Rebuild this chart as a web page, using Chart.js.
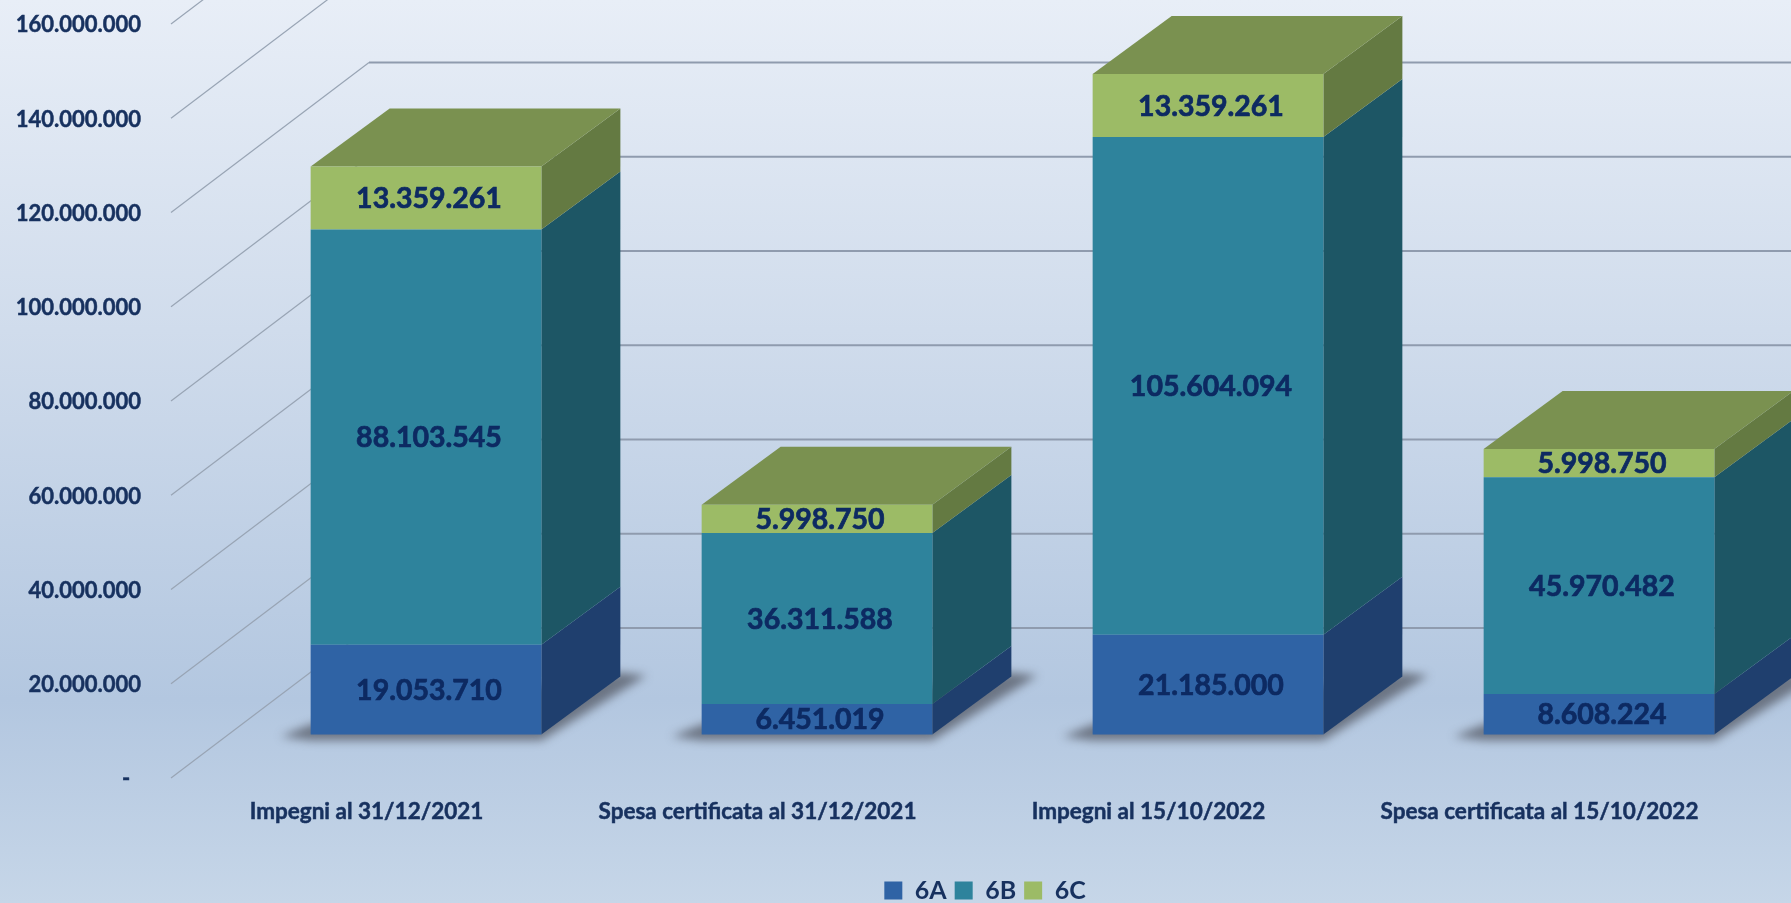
<!DOCTYPE html>
<html>
<head>
<meta charset="utf-8">
<title>Impegni e spesa certificata</title>
<style>
  html, body { margin: 0; padding: 0; width: 1791px; height: 903px; overflow: hidden; }
  body { background: linear-gradient(180deg, #e8eef7 0px, #d0dcec 330px, #b3c7e0 700px, #c6d6e8 903px); }
  #wrap { position: relative; width: 1791px; height: 903px; }
</style>
<script src="https://cdn.jsdelivr.net/npm/chart.js@4/dist/chart.umd.min.js"></script>
</head>
<body>
<div id="wrap"><canvas id="grafico"></canvas></div>
<script>
// valori
const categorie = ['Impegni al 31/12/2021', 'Spesa certificata al 31/12/2021', 'Impegni al 15/10/2022', 'Spesa certificata al 15/10/2022'];
const valori6A = [19053710, 6451019, 21185000, 8608224];
const valori6B = [88103545, 36311588, 105604094, 45970482];
const valori6C = [13359261, 5998750, 13359261, 5998750];
const etichetteSerie = ['6A', '6B', '6C'];
const tacche = [0, 20000000, 40000000, 60000000, 80000000, 100000000, 120000000, 140000000, 160000000];

const coloriFronte = ['#2f63a5', '#2e839c', '#9cbb66'];
const coloriLato = ['#1f3f6e', '#1d5665', '#647a42'];
const coloreTetto = '#7a9150';
const blu = '#17315f';

// prospettiva: profondita' della parete e dei blocchi
const muroDx = 198, muroDy = -150;
const bloccoDx = 79, bloccoDy = -58;

const numero = v => Math.round(v).toString().replace(/\B(?=(\d{3})+$)/g, '.');

function poligono(ctx, punti, colore) {
  ctx.beginPath();
  punti.forEach((p, i) => i ? ctx.lineTo(p[0], p[1]) : ctx.moveTo(p[0], p[1]));
  ctx.closePath();
  ctx.fillStyle = colore;
  ctx.fill();
}

const prospettiva = {
  id: 'prospettiva',
  afterLayout(chart) {
    // legenda spostata come nell'originale
    chart.legend.left = 235;
    chart.legend.top = 870;
  },
  beforeDatasetsDraw(chart) {
    const ctx = chart.ctx, y = chart.scales.y, left = chart.chartArea.left;
    ctx.save();
    // griglia: diagonale sulla parete sinistra, orizzontale sul fondo
    y.ticks.forEach(t => {
      const py = y.getPixelForValue(t.value);
      ctx.strokeStyle = '#98a4b4';
      ctx.lineWidth = 1.2;
      ctx.beginPath();
      ctx.moveTo(left, py);
      ctx.lineTo(left + muroDx, py + muroDy);
      ctx.stroke();
      ctx.strokeStyle = '#8f9bae';
      ctx.lineWidth = 2;
      ctx.beginPath();
      ctx.moveTo(left + muroDx, py + muroDy);
      ctx.lineTo(1791, py + muroDy);
      ctx.stroke();
    });

    const metas = chart.getSortedVisibleDatasetMetas();
    // ombre alla base
    metas[0].data.forEach(b => {
      const L = b.x - b.width / 2, R = b.x + b.width / 2, B = b.base;
      ctx.save();
      ctx.filter = 'blur(5px)';
      poligono(ctx, [[L - 30, B + 2], [L, B - 10], [R + bloccoDx, B + bloccoDy - 4], [R + bloccoDx + 26, B + bloccoDy - 1], [R, B + 6], [L, B + 6]], 'rgba(60,62,70,0.6)');
      ctx.restore();
    });
    // facce laterali e tetto
    metas.forEach(meta => {
      meta.data.forEach(b => {
        const R = b.x + b.width / 2;
        poligono(ctx, [[R, b.base], [R + bloccoDx, b.base + bloccoDy], [R + bloccoDx, b.y + bloccoDy], [R, b.y]], coloriLato[meta.index]);
      });
    });
    metas[metas.length - 1].data.forEach(b => {
      const L = b.x - b.width / 2, R = b.x + b.width / 2;
      poligono(ctx, [[L, b.y], [R, b.y], [R + bloccoDx, b.y + bloccoDy], [L + bloccoDx, b.y + bloccoDy]], coloreTetto);
    });
    ctx.restore();
  },
  afterDatasetsDraw(chart) {
    const ctx = chart.ctx;
    ctx.save();
    ctx.font = 'bold 28.5px Lato';
    ctx.fillStyle = '#0d2a62';
    ctx.strokeStyle = '#0d2a62';
    ctx.lineWidth = 0.7;
    ctx.textAlign = 'center';
    ctx.textBaseline = 'middle';
    chart.getSortedVisibleDatasetMetas().forEach(meta => {
      meta.data.forEach((b, i) => {
        const v = chart.data.datasets[meta.index].data[i].y;
        const tx = b.x + 3, ty = (b.y + b.base) / 2 + 1;
        ctx.fillText(numero(v), tx, ty);
        ctx.strokeText(numero(v), tx, ty);
      });
    });
    ctx.restore();
  }
};

const serie = [valori6A, valori6B, valori6C];
const pxPer20M = 94.25;
const baseAsse = 778, baseBlocchi = 734.5;
const maxAsse = baseAsse / pxPer20M * 20000000;
const minBlocchi = -(baseAsse - baseBlocchi) / pxPer20M * 20000000;
const spostamento = 59.5 / 391;

new Chart(document.getElementById('grafico'), {
  type: 'bar',
  plugins: [prospettiva],
  data: {
    labels: categorie,
    datasets: serie.map((valori, s) => ({
      label: etichetteSerie[s],
      data: valori.map((v, i) => ({ x: i, y: v })),
      backgroundColor: coloriFronte[s],
      borderWidth: 0,
      stack: 'totale',
      xAxisID: 'xb',
      yAxisID: 'yb',
      categoryPercentage: 1,
      barPercentage: 0.59,
      clip: false
    }))
  },
  options: {
    responsive: true,
    maintainAspectRatio: false,
    animation: false,
    layout: { padding: { left: 0, right: 56, top: 0, bottom: 0 } },
    plugins: {
      tooltip: { enabled: false },
      legend: {
        position: 'bottom',
        labels: {
          boxWidth: 18,
          boxHeight: 18,
          padding: 8,
          color: blu,
          font: { family: 'Lato', size: 25, weight: 'bold' }
        }
      }
    },
    scales: {
      // assi visibili, sul piano frontale
      x: {
        type: 'category',
        offset: true,
        grid: { display: false, drawTicks: false },
        border: { display: false },
        ticks: {
          padding: 20,
          maxRotation: 0,
          autoSkip: false,
          color: blu,
          textStrokeColor: blu,
          textStrokeWidth: 0.5,
          font: { family: 'Lato', size: 22.5, weight: 'bold' }
        },
        afterFit(s) { s.height = 903 - 778 - s.chart.legend.height; s.paddingLeft = 0; s.paddingRight = 0; }
      },
      y: {
        type: 'linear',
        position: 'left',
        min: 0,
        max: maxAsse,
        grid: { display: false, drawTicks: false },
        border: { display: false },
        afterBuildTicks(s) { s.ticks = tacche.map(v => ({ value: v })); },
        ticks: {
          padding: 30,
          labelOffset: 1.2,
          color: blu,
          textStrokeColor: blu,
          textStrokeWidth: 0.5,
          font: { family: 'Lato', size: 22, weight: 'bold' },
          callback: v => v === 0 ? '-  ' : numero(v)
        },
        afterFit(s) { s.width = 171; s.paddingTop = 0; s.paddingBottom = 0; }
      },
      // assi nascosti dei blocchi, spostati in profondita'
      xb: {
        type: 'linear',
        position: 'bottom',
        display: false,
        offset: false,
        stacked: true,
        min: -0.5 - spostamento,
        max: 3.5 - spostamento,
        afterBuildTicks(s) { s.ticks = categorie.map((c, i) => ({ value: i })); }
      },
      yb: {
        type: 'linear',
        position: 'left',
        display: false,
        stacked: true,
        min: minBlocchi,
        max: maxAsse + minBlocchi
      }
    }
  }
});
</script>
</body>
</html>
